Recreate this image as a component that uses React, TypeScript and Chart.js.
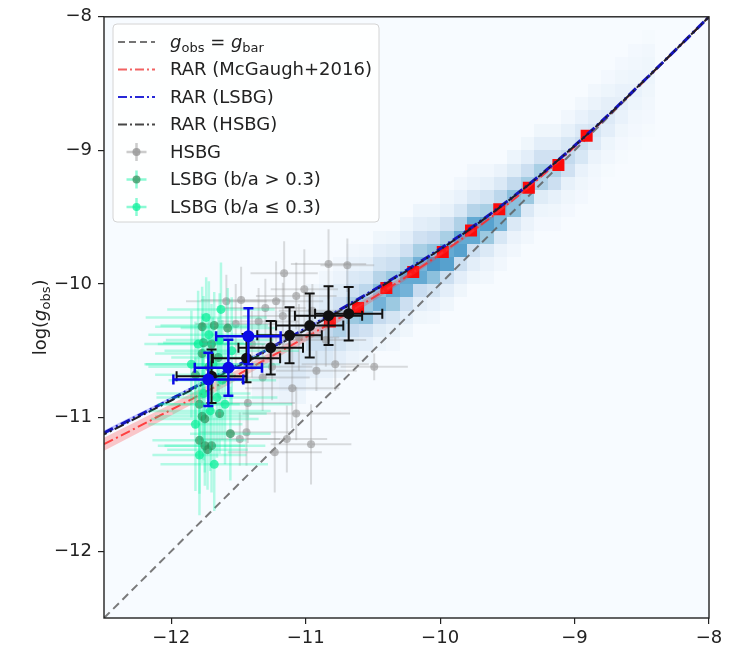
import React, { useEffect, useRef } from 'react';
import { Chart, registerables } from 'chart.js';
Chart.register(...registerables);

// ---------- axes ----------
const xTicks = [-12, -11, -10, -9, -8];
const yTicks = [-12, -11, -10, -9, -8];
const axisMin = -12.5;
const axisMax = -8;

// ---------- identity line ----------
const identX = [-12.5, -8];
const identY = [-12.5, -8];

// ---------- RAR curves ----------
const rarX = [-12.5, -12.25, -12, -11.75, -11.5, -11.25, -11, -10.75, -10.5, -10.25, -10, -9.75, -9.5, -9.25, -9, -8.75, -8.5, -8.25, -8];
const rarRed = [-11.199, -11.071, -10.941, -10.81, -10.676, -10.539, -10.399, -10.255, -10.104, -9.945, -9.777, -9.598, -9.405, -9.197, -8.975, -8.741, -8.497, -8.25, -8.0];
const rarRedHi = [-11.15, -11.025, -10.898, -10.77, -10.639, -10.505, -10.368, -10.227, -10.079, -9.923, -9.758, -9.583, -9.393, -9.188, -8.969, -8.737, -8.495, -8.249, -8.0];
const rarRedLo = [-11.248, -11.117, -10.984, -10.85, -10.713, -10.573, -10.43, -10.283, -10.129, -9.967, -9.796, -9.613, -9.417, -9.206, -8.981, -8.745, -8.499, -8.251, -8.0];
const rarBlue = [-11.114, -10.988, -10.861, -10.733, -10.606, -10.472, -10.334, -10.195, -10.049, -9.897, -9.737, -9.566, -9.38, -9.18, -8.965, -8.736, -8.494, -8.249, -8.0];
const rarBlueHi = [-11.097, -10.972, -10.846, -10.719, -10.593, -10.46, -10.323, -10.185, -10.04, -9.889, -9.73, -9.561, -9.376, -9.177, -8.963, -8.735, -8.494, -8.249, -8.0];
const rarBlueLo = [-11.131, -11.004, -10.876, -10.747, -10.619, -10.484, -10.345, -10.205, -10.058, -9.905, -9.744, -9.571, -9.384, -9.183, -8.967, -8.737, -8.494, -8.249, -8.0];
const rarBlack = [-11.126, -10.999, -10.872, -10.743, -10.615, -10.481, -10.343, -10.203, -10.056, -9.903, -9.742, -9.57, -9.383, -9.182, -8.966, -8.737, -8.494, -8.249, -8.0];

// ---------- McGaugh binned data (red squares) ----------
const mcgX = [-8.91, -9.12, -9.34, -9.56, -9.77, -9.98, -10.2, -10.4, -10.61, -10.82];
const mcgY = [-8.89, -9.11, -9.28, -9.44, -9.6, -9.76, -9.91, -10.03, -10.18, -10.28];

// ---------- HSBG individual galaxies ----------
const hsbgX = [-11.16, -10.83, -10.69, -11.59, -11.48, -11.22, -11.3, -11.17, -11.01, -11.07, -10.92, -10.49, -11.07, -11.43, -10.96, -11.23, -11.14, -11.49, -11.44, -11.35, -10.95, -11.25, -11.1, -10.85, -11.4, -10.78, -11.05, -11.32, -11.52];
const hsbgY = [-9.92, -9.85, -9.86, -10.13, -10.12, -10.13, -10.18, -10.24, -10.04, -10.09, -10.65, -10.62, -10.97, -10.89, -11.2, -11.26, -11.16, -11.16, -11.11, -10.28, -10.2, -10.62, -10.78, -10.42, -10.45, -10.6, -10.4, -10.7, -10.3];
const hsbgXErr = [0.25, 0.28, 0.2, 0.3, 0.3, 0.35, 0.3, 0.3, 0.25, 0.3, 0.3, 0.25, 0.4, 0.35, 0.3, 0.35, 0.3, 0.3, 0.35, 0.3, 0.25, 0.3, 0.35, 0.3, 0.3, 0.25, 0.3, 0.35, 0.3];
const hsbgYErr = [0.24, 0.26, 0.2, 0.2, 0.25, 0.3, 0.22, 0.25, 0.3, 0.25, 0.15, 0.1, 0.2, 0.3, 0.3, 0.3, 0.25, 0.2, 0.25, 0.25, 0.2, 0.25, 0.3, 0.2, 0.25, 0.2, 0.25, 0.25, 0.3];

// ---------- LSBG b/a > 0.3 ----------
const lsbgHiX = [-11.77, -11.68, -11.58, -11.76, -11.7, -11.77, -11.79, -11.77, -11.75, -11.64, -11.56, -11.79, -11.75, -11.7, -11.73, -11.72, -11.65, -11.82];
const lsbgHiY = [-10.32, -10.31, -10.33, -10.44, -10.45, -10.52, -10.9, -10.99, -11.01, -10.97, -11.12, -11.17, -11.21, -11.21, -11.24, -10.62, -10.55, -10.68];
const lsbgHiXErr = [0.35, 0.4, 0.35, 0.3, 0.4, 0.35, 0.3, 0.35, 0.4, 0.35, 0.3, 0.35, 0.3, 0.4, 0.3, 0.45, 0.35, 0.3];
const lsbgHiYErr = [0.3, 0.25, 0.3, 0.35, 0.3, 0.3, 0.4, 0.35, 0.4, 0.3, 0.35, 0.4, 0.3, 0.35, 0.3, 0.35, 0.3, 0.4];

// ---------- LSBG b/a <= 0.3 ----------
const lsbgLoX = [-11.63, -11.79, -11.72, -11.62, -11.69, -11.76, -11.8, -11.66, -11.85, -11.6, -11.68, -11.74, -11.55, -11.82, -11.71, -11.64];
const lsbgLoY = [-10.19, -11.28, -10.38, -10.72, -10.6, -10.82, -10.45, -10.85, -10.6, -10.9, -11.35, -10.25, -10.5, -11.05, -10.95, -10.42];
const lsbgLoXErr = [0.4, 0.35, 0.45, 0.4, 0.5, 0.35, 0.4, 0.45, 0.35, 0.5, 0.4, 0.45, 0.5, 0.35, 0.45, 0.4];
const lsbgLoYErr = [0.35, 0.45, 0.4, 0.45, 0.35, 0.5, 0.4, 0.45, 0.4, 0.45, 0.35, 0.3, 0.4, 0.5, 0.45, 0.35];

// ---------- binned HSBG (black) ----------
const binHX = [-11.7, -11.44, -11.26, -11.12, -10.97, -10.83, -10.68];
const binHY = [-10.69, -10.555, -10.477, -10.384, -10.311, -10.237, -10.222];
const binHXErr = [0.26, 0.25, 0.24, 0.24, 0.25, 0.25, 0.25];
const binHYErr = [0.2, 0.18, 0.2, 0.21, 0.24, 0.22, 0.2];

// ---------- binned LSBG (blue) ----------
const binLX = [-11.724, -11.575, -11.426];
const binLY = [-10.714, -10.627, -10.391];
const binLXErr = [0.26, 0.25, 0.24];
const binLYErr = [0.2, 0.21, 0.21];

// ---------- 2D histogram ----------
const histBin = 0.1;
const histX = [-11.4, -11.3, -11.2, -11.1, -11.0, -10.9, -10.8, -10.7, -10.6, -10.5, -10.4, -10.3, -10.2, -10.1, -10.0, -9.9, -9.8, -9.7, -9.6, -9.5, -9.4, -9.3, -9.2, -9.1, -9.0, -8.9, -8.8, -8.7, -8.6, -8.5];
const histY0 = [-10.9, -10.9, -10.9, -10.9, -10.8, -10.8, -10.7, -10.6, -10.6, -10.5, -10.5, -10.4, -10.3, -10.3, -10.2, -10.1, -10.0, -10.0, -9.9, -9.8, -9.7, -9.6, -9.6, -9.5, -9.4, -9.3, -9.2, -9.1, -9.0, -8.9];
const histVals = [
  [0.04, 0.06, 0.07, 0.08, 0.06, 0.05, 0.03],
  [0.05, 0.07, 0.1, 0.1, 0.08, 0.06, 0.04],
  [0.06, 0.1, 0.12, 0.14, 0.1, 0.07, 0.05, 0.03],
  [0.05, 0.1, 0.14, 0.16, 0.12, 0.1, 0.06, 0.03],
  [0.05, 0.1, 0.16, 0.22, 0.18, 0.12, 0.08, 0.04],
  [0.04, 0.08, 0.14, 0.22, 0.26, 0.18, 0.12, 0.07, 0.03],
  [0.05, 0.1, 0.18, 0.32, 0.3, 0.2, 0.12, 0.06, 0.03],
  [0.06, 0.12, 0.25, 0.38, 0.32, 0.22, 0.14, 0.07, 0.03],
  [0.04, 0.1, 0.2, 0.42, 0.38, 0.28, 0.16, 0.08, 0.04],
  [0.05, 0.12, 0.25, 0.48, 0.42, 0.3, 0.18, 0.1, 0.04],
  [0.03, 0.08, 0.18, 0.38, 0.52, 0.38, 0.22, 0.12, 0.05],
  [0.04, 0.1, 0.22, 0.48, 0.52, 0.34, 0.2, 0.1, 0.05],
  [0.04, 0.1, 0.24, 0.52, 0.48, 0.34, 0.2, 0.1, 0.05],
  [0.03, 0.07, 0.18, 0.42, 0.6, 0.4, 0.24, 0.12, 0.05],
  [0.04, 0.1, 0.22, 0.56, 0.52, 0.34, 0.2, 0.08, 0.04],
  [0.04, 0.1, 0.22, 0.56, 0.52, 0.32, 0.16, 0.07, 0.03],
  [0.04, 0.1, 0.22, 0.52, 0.52, 0.3, 0.14, 0.06, 0.03],
  [0.03, 0.06, 0.14, 0.38, 0.56, 0.34, 0.18, 0.08, 0.03],
  [0.03, 0.06, 0.16, 0.46, 0.46, 0.28, 0.14, 0.06],
  [0.03, 0.06, 0.14, 0.42, 0.42, 0.26, 0.12, 0.05],
  [0.03, 0.06, 0.14, 0.38, 0.36, 0.22, 0.1, 0.04],
  [0.02, 0.05, 0.12, 0.32, 0.34, 0.2, 0.1, 0.04],
  [0.02, 0.04, 0.08, 0.22, 0.32, 0.2, 0.1, 0.04],
  [0.02, 0.04, 0.08, 0.2, 0.26, 0.16, 0.08, 0.03],
  [0.02, 0.04, 0.07, 0.16, 0.22, 0.14, 0.07, 0.03],
  [0.02, 0.03, 0.06, 0.13, 0.17, 0.11, 0.06, 0.03],
  [0.01, 0.03, 0.05, 0.1, 0.13, 0.09, 0.05, 0.02],
  [0.01, 0.02, 0.04, 0.07, 0.09, 0.07, 0.04, 0.02],
  [0.01, 0.02, 0.03, 0.05, 0.07, 0.05, 0.03, 0.02],
  [0.01, 0.02, 0.03, 0.04, 0.05, 0.04, 0.03, 0.01],
];

// ---------- legend ----------
const legendLabels = ['', 'RAR (McGaugh+2016)', 'RAR (LSBG)', 'RAR (HSBG)', 'HSBG', 'LSBG (b/a > 0.3)', 'LSBG (b/a \u2264 0.3)'];

// ---------- styles ----------
const FONT = '"DejaVu Sans", "Liberation Sans", sans-serif';
const FS = 18;
const BLUES = [[247, 251, 255], [222, 235, 247], [198, 219, 239], [158, 202, 225], [107, 174, 214], [66, 146, 198], [33, 113, 181], [8, 81, 156], [8, 48, 107]];
function blues(t: number) {
  const c = Math.max(0, Math.min(1, t)) * 8;
  const i = Math.min(7, Math.floor(c));
  const f = c - i;
  const a = BLUES[i], b = BLUES[i + 1];
  return `rgb(${Math.round(a[0] + (b[0] - a[0]) * f)},${Math.round(a[1] + (b[1] - a[1]) * f)},${Math.round(a[2] + (b[2] - a[2]) * f)})`;
}
const GRAY_PT = 'rgba(140,140,140,0.55)';
const GRAY_BAR = 'rgba(150,150,150,0.32)';
const SEAGREEN = 'rgba(46,139,87,0.7)';
const SPRING = 'rgba(0,240,150,0.7)';
const MINT_BAR = 'rgba(0,245,160,0.28)';
const DASHDOT = [10, 3.5, 2, 3.5];

const pts = (xs: number[], ys: number[]) => xs.map((x, i) => ({ x, y: ys[i] }));

function drawMath(ctx: CanvasRenderingContext2D, parts: [string, string][], x: number, y: number, size: number, align: string) {
  const fontFor = (k: string) => (k === 'i' ? `italic ${size}px ${FONT}` : k === 's' ? `${Math.round(size * 0.72)}px ${FONT}` : `${size}px ${FONT}`);
  let w = 0;
  parts.forEach(([t, k]) => { ctx.font = fontFor(k); w += ctx.measureText(t).width; });
  let cx = align === 'center' ? x - w / 2 : x;
  ctx.textAlign = 'left';
  ctx.textBaseline = 'alphabetic';
  parts.forEach(([t, k]) => {
    ctx.font = fontFor(k);
    ctx.fillText(t, cx, k === 's' ? y + size * 0.22 : y);
    cx += ctx.measureText(t).width;
  });
}

const bgPlugin = {
  id: 'bgHist',
  beforeDatasetsDraw(chart: any) {
    const { ctx, chartArea, scales } = chart;
    const { left, top, right, bottom } = chartArea;
    ctx.save();
    ctx.fillStyle = blues(0);
    ctx.fillRect(left, top, right - left, bottom - top);
    histX.forEach((x0, i) => {
      histVals[i].forEach((v, j) => {
        const yb = histY0[i] + j * histBin;
        const px0 = Math.round(scales.x.getPixelForValue(x0));
        const px1 = Math.round(scales.x.getPixelForValue(x0 + histBin));
        const py0 = Math.round(scales.y.getPixelForValue(yb + histBin));
        const py1 = Math.round(scales.y.getPixelForValue(yb));
        ctx.fillStyle = blues(v);
        ctx.fillRect(px0, py0, px1 - px0, py1 - py0);
      });
    });
    ctx.restore();
  },
};

const errPlugin = {
  id: 'errBars',
  beforeDatasetDraw(chart: any, args: any) {
    const ds = chart.data.datasets[args.index];
    if (!ds.xErr) return;
    const { ctx, chartArea, scales } = chart;
    ctx.save();
    ctx.beginPath();
    ctx.rect(chartArea.left, chartArea.top, chartArea.right - chartArea.left, chartArea.bottom - chartArea.top);
    ctx.clip();
    ctx.strokeStyle = ds.errColor;
    ctx.lineWidth = ds.errWidth;
    const cap = ds.capSize || 0;
    ds.data.forEach((p: any, i: number) => {
      const xe = ds.xErr[i], ye = ds.yErr[i];
      const px = scales.x.getPixelForValue(p.x), py = scales.y.getPixelForValue(p.y);
      const xl = scales.x.getPixelForValue(p.x - xe), xr = scales.x.getPixelForValue(p.x + xe);
      const yt = scales.y.getPixelForValue(p.y + ye), yb = scales.y.getPixelForValue(p.y - ye);
      ctx.beginPath();
      ctx.moveTo(xl, py); ctx.lineTo(xr, py);
      ctx.moveTo(px, yt); ctx.lineTo(px, yb);
      if (cap) {
        ctx.moveTo(xl, py - cap); ctx.lineTo(xl, py + cap);
        ctx.moveTo(xr, py - cap); ctx.lineTo(xr, py + cap);
        ctx.moveTo(px - cap, yt); ctx.lineTo(px + cap, yt);
        ctx.moveTo(px - cap, yb); ctx.lineTo(px + cap, yb);
      }
      ctx.stroke();
    });
    ctx.restore();
  },
};

const framePlugin = {
  id: 'frameLegend',
  afterDraw(chart: any) {
    const { ctx, chartArea } = chart;
    const { left, top, right, bottom } = chartArea;
    ctx.save();
    ctx.strokeStyle = '#222';
    ctx.lineWidth = 1.4;
    ctx.strokeRect(left, top, right - left, bottom - top);

    // y-axis title
    ctx.fillStyle = '#222';
    ctx.save();
    ctx.translate(40, (top + bottom) / 2);
    ctx.rotate(-Math.PI / 2);
    drawMath(ctx, [['log(', 'n'], ['g', 'i'], ['obs', 's'], [')', 'n']], 0, 6, FS, 'center');
    ctx.restore();

    // legend box
    const bx = 113, by = 24, bw = 266, bh = 198;
    ctx.beginPath();
    ctx.roundRect(bx, by, bw, bh, 4);
    ctx.fillStyle = 'rgba(255,255,255,0.85)';
    ctx.fill();
    ctx.strokeStyle = '#d4d4d4';
    ctx.lineWidth = 1;
    ctx.stroke();

    const rowY = (i: number) => 42 + i * 27.5;
    const hx0 = 118, hx1 = 155, hc = 136.5;
    const lineHandle = (i: number, color: string, dash: number[], w: number) => {
      ctx.save();
      ctx.strokeStyle = color; ctx.lineWidth = w; ctx.setLineDash(dash);
      ctx.beginPath(); ctx.moveTo(hx0, rowY(i)); ctx.lineTo(hx1, rowY(i)); ctx.stroke();
      ctx.restore();
    };
    const crossHandle = (i: number, bar: string, dot: string) => {
      ctx.save();
      ctx.strokeStyle = bar; ctx.lineWidth = 2.5;
      ctx.beginPath();
      ctx.moveTo(hc - 10, rowY(i)); ctx.lineTo(hc + 10, rowY(i));
      ctx.moveTo(hc, rowY(i) - 9); ctx.lineTo(hc, rowY(i) + 9);
      ctx.stroke();
      ctx.fillStyle = dot;
      ctx.beginPath(); ctx.arc(hc, rowY(i), 4, 0, Math.PI * 2); ctx.fill();
      ctx.restore();
    };
    lineHandle(0, 'rgba(70,70,70,0.75)', [7, 4], 2);
    lineHandle(1, 'rgba(240,70,70,0.85)', [9, 3, 2, 3], 2);
    lineHandle(2, 'rgb(40,40,215)', [9, 3, 2, 3], 2);
    lineHandle(3, 'rgb(70,70,70)', [9, 3, 2, 3], 2);
    crossHandle(4, 'rgba(170,170,170,0.6)', 'rgba(150,150,150,0.8)');
    crossHandle(5, 'rgba(0,245,160,0.45)', SEAGREEN);
    crossHandle(6, 'rgba(0,245,160,0.45)', SPRING);

    ctx.fillStyle = '#222';
    const tx = 170;
    drawMath(ctx, [['g', 'i'], ['obs', 's'], [' = ', 'n'], ['g', 'i'], ['bar', 's']], tx, rowY(0) + 6, FS, 'left');
    ctx.font = `${FS}px ${FONT}`;
    ctx.textBaseline = 'middle';
    for (let i = 1; i < legendLabels.length; i++) {
      ctx.fillText(legendLabels[i], tx, rowY(i) + 1);
    }
    ctx.restore();
  },
};

export default function App() {
  const ref = useRef<HTMLCanvasElement>(null);
  useEffect(() => {
    document.body.style.margin = '0';
    const lineDs = (ys: number[], color: string, width: number, order: number, offset: number) => ({
      type: 'line',
      data: pts(rarX, ys),
      borderColor: color,
      borderWidth: width,
      borderDash: DASHDOT,
      borderDashOffset: offset,
      pointRadius: 0,
      cubicInterpolationMode: 'monotone',
      fill: false,
      order,
    });
    const chart = new Chart(ref.current as HTMLCanvasElement, {
      type: 'scatter',
      data: {
        datasets: [
          { type: 'line', data: pts(rarX, rarRedHi), borderWidth: 0, pointRadius: 0, fill: '+1', backgroundColor: 'rgba(255,60,60,0.28)', cubicInterpolationMode: 'monotone', order: 96 } as any,
          { type: 'line', data: pts(rarX, rarRedLo), borderWidth: 0, pointRadius: 0, fill: false, cubicInterpolationMode: 'monotone', order: 96 } as any,
          { type: 'line', data: pts(rarX, rarBlueHi), borderWidth: 0, pointRadius: 0, fill: '+1', backgroundColor: 'rgba(60,60,255,0.3)', cubicInterpolationMode: 'monotone', order: 95 } as any,
          { type: 'line', data: pts(rarX, rarBlueLo), borderWidth: 0, pointRadius: 0, fill: false, cubicInterpolationMode: 'monotone', order: 95 } as any,
          { type: 'line', data: pts(identX, identY), borderColor: 'rgba(90,90,90,0.8)', borderWidth: 2, borderDash: [8, 5], pointRadius: 0, fill: false, order: 99 } as any,
          { type: 'scatter', data: pts(mcgX, mcgY), pointStyle: 'rect', pointRadius: 8.5, backgroundColor: 'rgb(250,10,10)', borderWidth: 0, order: 97 } as any,
          lineDs(rarRed, 'rgba(255,40,40,0.85)', 2, 94, 0),
          lineDs(rarBlue, 'rgb(20,20,190)', 3, 93, 0),
          lineDs(rarBlack, 'rgb(30,30,40)', 2, 92, 7),
          { type: 'scatter', data: pts(hsbgX, hsbgY), xErr: hsbgXErr, yErr: hsbgYErr, errColor: GRAY_BAR, errWidth: 2, pointRadius: 4, backgroundColor: GRAY_PT, borderWidth: 0, order: 60 } as any,
          { type: 'scatter', data: pts(lsbgHiX, lsbgHiY), xErr: lsbgHiXErr, yErr: lsbgHiYErr, errColor: MINT_BAR, errWidth: 2.5, pointRadius: 4.5, backgroundColor: SEAGREEN, borderWidth: 0, order: 50 } as any,
          { type: 'scatter', data: pts(lsbgLoX, lsbgLoY), xErr: lsbgLoXErr, yErr: lsbgLoYErr, errColor: MINT_BAR, errWidth: 2.5, pointRadius: 4.5, backgroundColor: SPRING, borderWidth: 0, order: 40 } as any,
          { type: 'scatter', data: pts(binHX, binHY), xErr: binHXErr, yErr: binHYErr, errColor: '#111', errWidth: 2, capSize: 5, pointRadius: 5.5, backgroundColor: '#111', borderWidth: 0, order: 20 } as any,
          { type: 'scatter', data: pts(binLX, binLY), xErr: binLXErr, yErr: binLYErr, errColor: 'rgb(10,10,230)', errWidth: 2.5, capSize: 5, pointRadius: 6, backgroundColor: 'rgb(10,10,230)', borderWidth: 0, order: 10 } as any,
        ],
      },
      options: {
        responsive: false,
        devicePixelRatio: 1,
        animation: false,
        events: [],
        layout: { padding: { top: 14, right: 35, left: 0, bottom: 0 } },
        plugins: { legend: { display: false }, tooltip: { enabled: false } },
        scales: {
          x: {
            type: 'linear',
            min: axisMin,
            max: axisMax,
            afterBuildTicks: (s: any) => { s.ticks = xTicks.map((v) => ({ value: v })); },
            afterFit: (s: any) => { s.height = 37; },
            grid: { drawOnChartArea: false, drawTicks: true, tickLength: 6, color: '#222', lineWidth: 1.2 },
            border: { display: false },
            ticks: { color: '#222', padding: 4, font: { family: FONT, size: FS }, callback: (v: any) => String(v).replace('-', '\u2212') },
          },
          y: {
            type: 'linear',
            min: axisMin,
            max: axisMax,
            afterBuildTicks: (s: any) => { s.ticks = yTicks.map((v) => ({ value: v })); },
            afterFit: (s: any) => { s.width = 104; },
            grid: { drawOnChartArea: false, drawTicks: true, tickLength: 6, color: '#222', lineWidth: 1.2 },
            border: { display: false },
            ticks: { color: '#222', padding: 6, font: { family: FONT, size: FS }, callback: (v: any) => String(v).replace('-', '\u2212') },
          },
        },
      } as any,
      plugins: [bgPlugin, errPlugin, framePlugin],
    } as any);
    return () => chart.destroy();
  }, []);
  return <canvas ref={ref} width={744} height={655} style={{ display: 'block', width: 744, height: 655 }} />;
}
